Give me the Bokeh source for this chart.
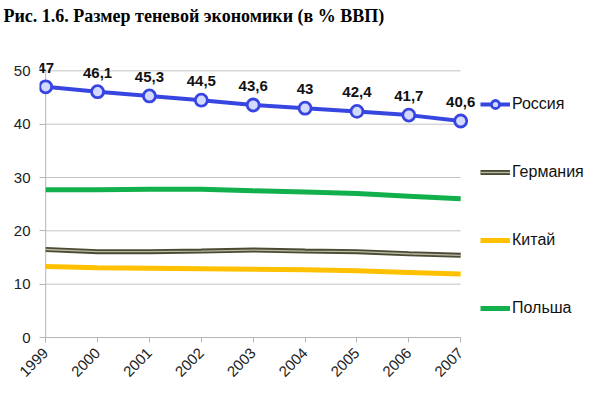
import math
from bokeh.plotting import figure
from bokeh.models import ColumnDataSource, LabelSet, Legend, LegendItem, Range1d, FixedTicker
from bokeh.core.properties import value
from bokeh.embed import file_html
from bokeh.resources import INLINE

# ---- data ----
years = [1999, 2000, 2001, 2002, 2003, 2004, 2005, 2006, 2007]
russia = [47, 46.1, 45.3, 44.5, 43.6, 43, 42.4, 41.7, 40.6]
germany = [16.5, 16.1, 16.1, 16.2, 16.4, 16.2, 16.1, 15.7, 15.4]
china = [13.3, 13.1, 13.0, 12.9, 12.8, 12.7, 12.5, 12.2, 11.9]
poland = [27.7, 27.7, 27.8, 27.8, 27.5, 27.3, 27.0, 26.5, 26.0]
y_ticks = [0, 10, 20, 30, 40, 50]
series_names = ["Россия", "Германия", "Китай", "Польша"]
title_text = "Рис. 1.6. Размер теневой экономики (в % ВВП)"

russia_labels = [("%g" % v).replace(".", ",") for v in russia]

src = ColumnDataSource(dict(x=years, russia=russia, germany=germany, china=china,
                            poland=poland, lab=russia_labels))

# frame layout (pixels)
W, H = 595, 398
left_b, top_b, bottom_b = 39, 32, 61
px_per_year = 51.875
px_per_unit = 5.333
frame_w = W - left_b
frame_h = H - top_b - bottom_b
x0 = years[0] - 6.2 / px_per_year
x1 = x0 + frame_w / px_per_year
y1 = y_ticks[0] + frame_h / px_per_unit

p = figure(width=W, height=H, output_backend="svg", toolbar_location=None,
           x_range=Range1d(x0, x1), y_range=Range1d(y_ticks[0], y1),
           min_border_left=left_b, min_border_right=0, min_border_top=top_b,
           min_border_bottom=bottom_b)

p.outline_line_color = None
p.grid.visible = False
p.background_fill_color = "white"
p.border_fill_color = "white"

# gridlines and y axis line, drawn from the tick list
grid_color = "#c4c4c4"
gy = y_ticks[1:]
p.segment(x0=[years[0]] * len(gy), x1=[years[-1]] * len(gy), y0=gy, y1=gy,
          line_color=grid_color, line_width=1)
p.segment(x0=[years[0]], x1=[years[0]], y0=[y_ticks[0]], y1=[y_ticks[-1]],
          line_color="#b5b5b5", line_width=1)

# series
r_pl = p.line("x", "poland", source=src, line_color="#12b04c", line_width=5)
r_de1 = p.line("x", "germany", source=src, line_color="#4b4b34", line_width=5)
r_de2 = p.line("x", "germany", source=src, line_color="#b9b9a4", line_width=1.3)
r_cn = p.line("x", "china", source=src, line_color="#ffc000", line_width=5)
r_ru = p.line("x", "russia", source=src, line_color="#3746e0", line_width=4)
r_ru_m = p.scatter("x", "russia", source=src, size=12, fill_color="#d4daff",
                   line_color="#3746e0", line_width=2.8)

labels = LabelSet(x="x", y="russia", text="lab", source=src, x_offset=0, y_offset=14,
                  text_align="center", text_baseline="alphabetic",
                  text_font=value("Liberation Sans"), text_font_style="bold",
                  text_font_size="15px", text_color="#111111")
p.add_layout(labels)

# axes
xa = p.xaxis[0]
xa.ticker = FixedTicker(ticks=years)
xa.bounds = (years[0], years[-1])
xa.major_label_orientation = math.pi / 4
xa.axis_line_color = "#b5b5b5"
xa.major_tick_line_color = "#b5b5b5"
xa.major_tick_in = 0
xa.major_tick_out = 5
xa.minor_tick_line_color = None
xa.major_label_text_font = "Liberation Sans"
xa.major_label_text_font_size = "15px"
xa.major_label_text_color = "#222222"
xa.major_label_standoff = 8

ya = p.yaxis[0]
ya.ticker = FixedTicker(ticks=y_ticks)
ya.bounds = (y_ticks[0], y_ticks[-1])
ya.axis_line_color = None
ya.major_tick_line_color = "#b5b5b5"
ya.major_tick_in = 6
ya.major_tick_out = 0
ya.minor_tick_line_color = None
ya.major_label_text_font = "Liberation Sans"
ya.major_label_text_font_size = "15px"
ya.major_label_text_color = "#222222"
ya.major_label_standoff = 9

# legend
legend = Legend(items=[
    LegendItem(label=series_names[0], renderers=[r_ru, r_ru_m]),
    LegendItem(label=series_names[1], renderers=[r_de1, r_de2]),
    LegendItem(label=series_names[2], renderers=[r_cn]),
    LegendItem(label=series_names[3], renderers=[r_pl]),
], location=(441, 19), orientation="vertical")
legend.border_line_color = None
legend.background_fill_alpha = 0
legend.padding = 0
legend.margin = 0
legend.glyph_width = 30
legend.glyph_height = 20
legend.label_height = 20
legend.spacing = 48
legend.label_standoff = 2
legend.label_text_font = "Liberation Sans"
legend.label_text_font_size = "16px"
legend.label_text_color = "#111111"
p.add_layout(legend, "center")

# title
p.title.text = title_text
p.title.text_font = "Liberation Serif"
p.title.text_font_style = "bold"
p.title.text_font_size = "18px"
p.title.text_color = "#000000"
p.title.align = "left"
p.title.offset = -36
p.title.vertical_align = "top"

open("out.html", "w").write(file_html(p, INLINE))
